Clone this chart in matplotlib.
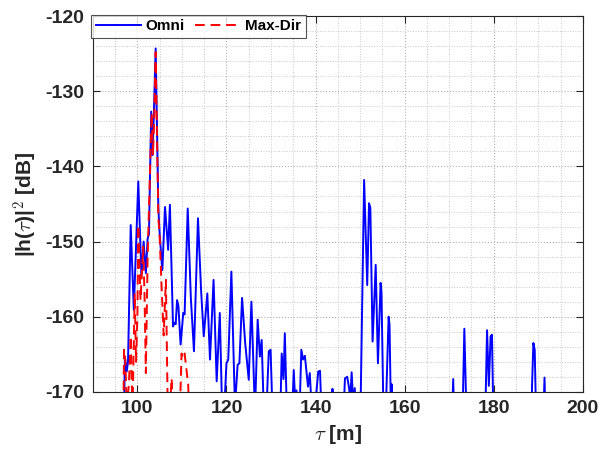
import numpy as np
import matplotlib.pyplot as plt
from matplotlib.ticker import MultipleLocator

# Omni channel (delay in m, power in dB); values below -170 are off-axis dips
omni_tau = [96.9, 97.2, 97.6, 97.9, 98.5, 99.2, 100.2, 100.9, 101.4, 101.9, 102.3, 102.6,
            103.1, 103.4, 103.7, 104.1, 104.7, 105.0, 105.6, 106.2, 106.9, 107.3, 108.0,
            108.3, 108.6, 108.9, 109.2, 109.7, 110.3, 110.6, 111.3, 112.0, 112.7, 113.6,
            114.3, 114.9, 115.7, 116.3, 117.1, 117.8, 118.5, 119.0, 119.6, 120.0, 120.4,
            121.1, 121.9, 122.5, 122.9, 123.5, 124.2, 125.0, 125.6, 126.4, 127.0, 127.5,
            127.9, 128.5, 129.0, 129.5, 129.9, 130.5, 132.0, 132.4, 132.8, 133.1, 133.7,
            134.8, 135.1, 135.4, 135.7, 136.0, 136.3, 136.8, 137.2, 137.6, 138.3, 138.7,
            139.2, 139.9, 140.6, 141.0, 141.4, 143.6, 143.8, 144.0, 146.2, 146.6, 147.1,
            147.5, 147.8, 148.1, 148.5, 148.8, 149.1, 150.0, 150.9, 151.6, 152.0, 152.3,
            152.8, 153.5, 154.0, 154.6, 154.8, 155.3, 155.8, 156.4, 156.6, 156.9, 157.1,
            157.4, 170.5, 170.9, 171.2, 172.9, 173.4, 174.0, 178.0, 178.5, 178.9, 179.3,
            179.6, 180.0, 188.4, 188.6, 188.9, 189.2, 189.6, 191.0, 191.4, 191.7]
omni_db = [-176, -165.3, -167.3, -166, -147.8, -159.1, -142.0, -154.5, -150.0, -154.2, -149.6, -149.0,
           -132.7, -138.5, -133.0, -124.3, -145.4, -149.0, -153.8, -145.4, -151.1, -145.1, -161.3,
           -160.8, -161.0, -157.8, -158.5, -163.7, -159.5, -159.7, -145.6, -157.5, -164.6, -146.9,
           -156.5, -162.6, -156.9, -165.7, -155.1, -168.6, -159.5, -172, -171, -166.2, -165.7,
           -154.0, -172, -166.4, -166.2, -157.5, -163.5, -168.4, -158.0, -173, -160.4, -165.3,
           -163.1, -175, -172, -164.6, -164.4, -176, -175, -164.9, -168.3, -162.2, -176,
           -172, -167.1, -171, -169.8, -171, -175, -164.4, -165.7, -165.2, -169.3, -167.5,
           -173, -172, -167.3, -167.2, -174, -175, -169.6, -175, -174, -168.2, -168.0,
           -169.4, -171, -167.4, -172, -169.5, -174, -176, -141.8, -155.8, -144.9, -145.5,
           -163.3, -153.1, -166.2, -155.5, -156.8, -175, -172, -160.0, -161.0, -172, -169.0,
           -174, -176, -168.3, -176, -176, -161.6, -176, -176, -161.8, -169.2, -162.6,
           -162.4, -176, -176, -169.2, -163.5, -164.4, -176, -176, -168.1, -176]

# Max-Dir channel
maxdir_tau = [96.8, 97.0, 97.3, 97.6, 98.1, 98.5, 98.9, 99.4, 99.7, 100.0, 100.2, 100.7,
              101.3, 101.6, 101.9, 102.3, 102.8, 103.2, 103.5, 103.8, 104.1, 104.7, 105.0,
              105.4, 105.9, 106.4, 106.9, 107.3, 107.7, 108.1, 109.4, 109.9, 110.3, 110.6,
              111.4, 111.8]
maxdir_db = [-176, -164.4, -166, -172, -169, -162.6, -173, -156.9, -166, -160, -147.8, -157.8,
             -150.7, -157, -167.5, -152, -141.4, -132.9, -138.5, -133, -124.8, -146.7, -149.4,
             -155.5, -162.5, -155.1, -176, -172, -168.2, -176, -176, -164.9, -165.5, -164.9,
             -169, -176]

plt.rcParams['font.family'] = ['Liberation Sans', 'DejaVu Sans']
plt.rcParams['font.weight'] = 'bold'
plt.rcParams['mathtext.fontset'] = 'cm'
plt.rcParams['axes.unicode_minus'] = False

fig = plt.figure(figsize=(5.99, 4.61), dpi=100)
ax = fig.add_axes([0.155, 0.150, 0.818, 0.815])

ax.plot(omni_tau, omni_db, color='#0000ff', lw=1.4, label='Omni')
ax.plot(maxdir_tau, maxdir_db, color='#ff0000', lw=1.4, ls=(0, (5, 3)), label='Max-Dir')

ax.set_xlim(90, 200)
ax.set_ylim(-170, -120)
ax.xaxis.set_major_locator(MultipleLocator(20))
ax.xaxis.set_minor_locator(MultipleLocator(5))
ax.yaxis.set_major_locator(MultipleLocator(10))
ax.yaxis.set_minor_locator(MultipleLocator(2))

ax.grid(which='major', color='#b0b0b0', ls=':', lw=0.8)
ax.grid(which='minor', color='#c8c8c8', ls=':', lw=0.7)
ax.set_axisbelow(True)

ax.tick_params(which='both', direction='in', top=True, right=True,
               colors='#262626', labelsize=14, width=0.8, pad=6)
ax.tick_params(which='major', length=5)
ax.tick_params(which='minor', length=0)
for lab in ax.get_xticklabels() + ax.get_yticklabels():
    lab.set_fontweight('bold')
for s in ax.spines.values():
    s.set_color('#262626')
    s.set_linewidth(0.8)

ax.set_xlabel(r'$\tau$ [m]', fontsize=15, fontweight='bold', color='#262626')
ax.set_ylabel(r'|h($\tau$)|$^\mathbf{2}$ [dB]', fontsize=15, fontweight='bold', color='#262626')

leg = ax.legend(loc='upper left', ncol=2, frameon=True, fancybox=False,
                borderaxespad=-0.1, handlelength=2.95, columnspacing=0.7,
                borderpad=0.3, handletextpad=0.3, prop={'weight': 'bold', 'size': 11})
leg.get_frame().set_edgecolor('#262626')
leg.get_frame().set_linewidth(0.8)

fig.savefig('out.png', dpi=100)
